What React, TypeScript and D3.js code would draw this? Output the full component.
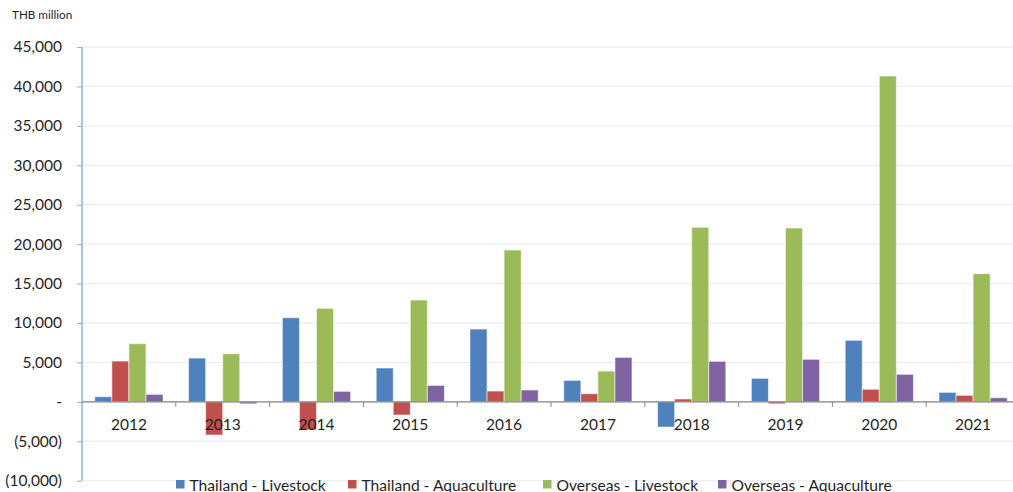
import React, { useEffect, useRef } from 'react';
import * as d3 from 'd3';

// values, THB million
const years = ['2012', '2013', '2014', '2015', '2016', '2017', '2018', '2019', '2020', '2021'];
const thailandLivestock = [650, 5550, 10670, 4290, 9230, 2720, -3200, 2980, 7800, 1200];
const thailandAquaculture = [5170, -4210, -3550, -1670, 1370, 1030, 360, -250, 1590, 820];
const overseasLivestock = [7370, 6100, 11860, 12910, 19250, 3900, 22130, 22040, 41320, 16250];
const overseasAquaculture = [950, -250, 1330, 2090, 1500, 5640, 5140, 5390, 3490, 520];
const seriesNames = ['Thailand - Livestock', 'Thailand - Aquaculture', 'Overseas - Livestock', 'Overseas - Aquaculture'];
const yTicks = [-10000, -5000, 0, 5000, 10000, 15000, 20000, 25000, 30000, 35000, 40000, 45000];

const colors = ['#4F81BD', '#C0504D', '#9BBB59', '#8064A2'];
const FONT = 'Lato, "Open Sans", sans-serif';

const ChartApp = () => {
  const svgRef = useRef<SVGSVGElement>(null);

  useEffect(() => {
    const svgWidth = 1013;
    const svgHeight = 492;
    const left = 82;
    const right = 1020; // the plot runs past the right edge
    const top = 47;
    const bottom = 480.7;

    const svg = d3.select(svgRef.current);
    svg.selectAll('*').remove();
    svg.attr('width', svgWidth).attr('height', svgHeight);

    const series = [thailandLivestock, thailandAquaculture, overseasLivestock, overseasAquaculture];

    const x0 = d3.scaleBand<string>().domain(years).range([left, right]);
    const bw = x0.bandwidth() / 5.5; // excel gap width 150%
    const x1 = d3.scaleBand<number>()
                 .domain(d3.range(series.length))
                 .range([bw * 0.75, bw * 4.75]);

    const y = d3.scaleLinear().domain([-10000, 45000]).range([bottom, top]);

    const fmt = (v: number) => {
      if (v === 0) return '-';
      const s = d3.format(',')(Math.abs(v));
      return v < 0 ? `(${s})` : s;
    };

    // gridlines
    svg.append('g')
       .selectAll('line')
       .data(yTicks)
       .join('line')
       .attr('x1', left)
       .attr('x2', svgWidth)
       .attr('y1', d => y(d))
       .attr('y2', d => y(d))
       .attr('stroke', '#eaeff8')
       .attr('stroke-width', 1.3);

    // y axis
    const yAxis = svg.append('g')
       .attr('transform', `translate(${left},0)`)
       .call(d3.axisLeft(y).tickValues(yTicks).tickFormat(d => fmt(+d)).tickSize(5).tickSizeOuter(0).tickPadding(15));
    yAxis.select('.domain').attr('stroke', '#8db3e2').attr('stroke-width', 1.5);
    yAxis.selectAll('.tick line').attr('stroke', '#8db3e2');
    yAxis.selectAll('.tick text')
         .attr('font-family', FONT)
         .attr('font-size', 15.5)
         .attr('fill', '#1f1f1f');
    yAxis.select('.domain').attr('d', `M0,${top}V${bottom}`);

    // bars
    const groups = svg.append('g')
       .selectAll('g')
       .data(series)
       .join('g')
       .attr('fill', (_, i) => colors[i]);

    groups.each(function (vals, si) {
      d3.select(this)
        .selectAll('rect')
        .data(vals)
        .join('rect')
        .attr('x', (_, i) => (x0(years[i]) as number) + (x1(si) as number))
        .attr('y', d => y(Math.max(0, d)))
        .attr('width', x1.bandwidth())
        .attr('height', d => Math.abs(y(d) - y(0)))
        .attr('stroke', 'rgba(255,255,255,0.55)')
        .attr('stroke-width', 1);
    });

    // x axis at zero
    const xAxis = svg.append('g')
       .attr('transform', `translate(0,${y(0)})`);
    xAxis.append('line')
         .attr('x1', left)
         .attr('x2', svgWidth)
         .attr('stroke', '#868686')
         .attr('stroke-width', 1.2);
    xAxis.selectAll('.tk')
         .data(years.slice(1))
         .join('line')
         .attr('class', 'tk')
         .attr('x1', d => x0(d) as number)
         .attr('x2', d => x0(d) as number)
         .attr('y1', 0)
         .attr('y2', 5)
         .attr('stroke', '#868686');
    xAxis.selectAll('text')
         .data(years)
         .join('text')
         .attr('x', d => (x0(d) as number) + x0.bandwidth() / 2)
         .attr('y', 28)
         .attr('text-anchor', 'middle')
         .attr('font-family', FONT)
         .attr('font-size', 15.5)
         .attr('fill', '#1f1f1f')
         .text(d => d);

    // unit label
    svg.append('text')
       .attr('x', 12)
       .attr('y', 19)
       .attr('font-family', FONT)
       .attr('font-size', 11.7)
       .attr('fill', '#1f1f1f')
       .text('THB million');

    // legend
    const legendX = [176, 348, 543, 718];
    const legend = svg.append('g')
       .selectAll('g')
       .data(seriesNames)
       .join('g')
       .attr('transform', (_, i) => `translate(${legendX[i]},480)`);
    legend.append('rect')
          .attr('width', 8.5)
          .attr('height', 8.5)
          .attr('fill', (_, i) => colors[i]);
    legend.append('text')
          .attr('x', 13.5)
          .attr('y', 10.5)
          .attr('font-family', FONT)
          .attr('font-size', 15.6)
          .attr('fill', '#1f1f1f')
          .text(d => d);
  }, []);

  return <svg ref={svgRef} style={{ position: 'absolute', left: 0, top: 0 }}></svg>;
};

export default function App() {
  return <ChartApp />;
}
